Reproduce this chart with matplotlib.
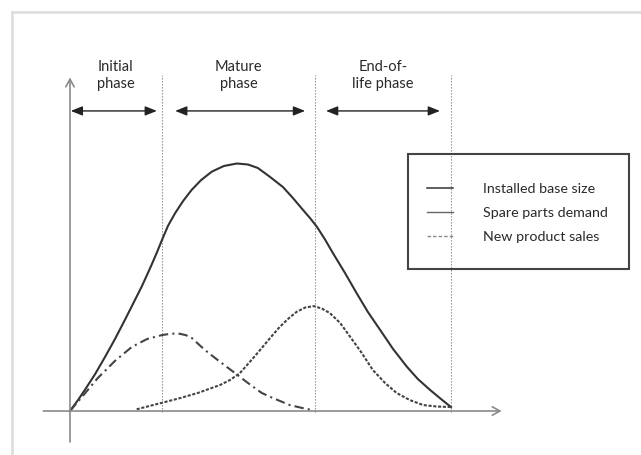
import matplotlib
matplotlib.use("Agg")
import matplotlib.pyplot as plt
from matplotlib.lines import Line2D
from matplotlib.patches import Rectangle

plt.rcParams['font.family'] = ['Lato', 'DejaVu Sans']

# ---- data (time 0..100, level 0..100) ----
installed_t = [0, 2.1, 3.9, 6.6, 9.2, 11.8, 14.4, 16.5, 18.8, 20.2, 21.4, 22.8, 24.1, 25.7,
               27.6, 29.7, 31.9, 34.4, 37.2, 40.4, 43.8, 46.7, 49.3, 52.5, 55.9, 58.5,
               61.2, 63.0, 64.8, 67.0, 69.0, 72.2, 75.2, 78.2, 81.4, 84.8, 88.4, 91.3,
               94.5, 97.4, 100.0]
installed_v = [0, 4.4, 8.5, 14.9, 21.8, 29.0, 36.7, 43.1, 50.1, 54.8, 58.9, 63.9, 68.8, 74.6,
               79.8, 84.7, 89.1, 93.1, 96.5, 98.8, 99.8, 99.4, 98.0, 94.4, 90.3, 85.9,
               81.0, 77.8, 74.3, 69.0, 63.7, 55.6, 47.6, 39.9, 32.7, 25.0, 17.9, 12.9,
               8.5, 4.8, 1.6]

spare_t = [17.5, 24.1, 28.9, 33.6, 39.4, 42.0, 44.6, 47.2, 49.9, 52.5, 55.1, 57.5, 59.5,
           61.7, 64.0, 66.1, 68.2, 70.9, 73.5, 76.4, 79.5, 82.7, 85.7, 89.2, 92.7, 96.3, 100.0]
spare_v = [0.7, 3.3, 5.2, 7.3, 10.5, 12.5, 15.3, 19.8, 24.6, 29.4, 34.0, 37.5, 40.0,
           41.7, 42.3, 41.3, 39.5, 35.5, 30.0, 23.8, 16.5, 11.3, 7.3, 4.4, 2.4, 1.8, 1.6]

sales_t = [0, 3.7, 7.3, 11.8, 16.2, 20.2, 24.1, 26.2, 28.3, 30.4, 32.0, 35.4, 39.4, 43.3,
           46.7, 50.3, 53.3, 57.7, 62.1, 63.8]
sales_v = [0, 6.7, 13.3, 20.2, 25.8, 29.0, 30.6, 31.1, 31.3, 30.6, 29.4, 24.6, 19.8, 15.3,
           11.3, 7.3, 5.2, 2.4, 0.8, 0.4]

phase_bounds = [0, 24.1, 64.3, 100.0]
phase_labels = ["Initial\nphase", "Mature\nphase", "End-of-\nlife phase"]
phase_arrow_start = [0.2, 27.6, 67.2]
phase_arrow_end = [22.8, 61.7, 97.1]

legend_labels = ["Installed base size", "Spare parts demand", "New product sales"]

# ---- figure ----
W, H = 641, 455
fig = plt.figure(figsize=(W / 100, H / 100), dpi=100)
ax = fig.add_axes([0, 0, 1, 1])
ax.set_xlim(-18.37, 149.87)
ax.set_ylim(-17.74, 165.73)
ax.axis('off')

# outer light border (top and left)
fig.add_artist(Line2D([12 / W, 1], [1 - 12 / H, 1 - 12 / H], transform=fig.transFigure,
                      color='#dcdcdc', lw=1.8))
fig.add_artist(Line2D([12 / W, 12 / W], [0, 1 - 12 / H], transform=fig.transFigure,
                      color='#dcdcdc', lw=1.8))

axis_col = '#8a8a8a'
# y axis
ax.annotate('', xy=(0, 134.5), xytext=(0, -12.5),
            arrowprops=dict(arrowstyle='->,head_length=0.55,head_width=0.3',
                            color=axis_col, lw=1.2, shrinkA=0, shrinkB=0))
# x axis
ax.annotate('', xy=(113.3, 0), xytext=(-7.0, 0),
            arrowprops=dict(arrowstyle='->,head_length=0.55,head_width=0.3',
                            color=axis_col, lw=1.2, shrinkA=0, shrinkB=0))

# phase boundaries
for b in phase_bounds[1:]:
    ax.plot([b, b], [-0.5, 135.5], color='#888888', lw=0.8, linestyle=(0, (1.2, 1.5)))

# phase arrows & labels
for i, lab in enumerate(phase_labels):
    ax.annotate('', xy=(phase_arrow_end[i], 121.0), xytext=(phase_arrow_start[i], 121.0),
                arrowprops=dict(arrowstyle='<|-|>,head_length=0.7,head_width=0.28',
                                color='#222222', lw=1.0, shrinkA=0, shrinkB=0))
    cx = (phase_bounds[i] + phase_bounds[i + 1]) / 2
    ax.text(cx, 135.3, lab, ha='center', va='center', multialignment='center',
            fontsize=10.5, color='#2a2a2a', linespacing=1.2)

# curves
ax.plot(installed_t, installed_v, color='#333333', lw=1.5, solid_joinstyle='round')
ax.plot(spare_t, spare_v, color='#444444', lw=1.5, linestyle=(0, (1.5, 0.8)))
ax.plot(sales_t, sales_v, color='#444444', lw=1.5, linestyle=(0, (4.5, 2, 1, 2)))

# legend
handles = [Line2D([], [], color='#333333', lw=1.1),
           Line2D([], [], color='#666666', lw=1.0),
           Line2D([], [], color='#888888', lw=1.0, linestyle=(0, (2.5, 1.5)))]
fig.add_artist(Rectangle((408 / W, 1 - 269 / H), 221 / W, 115 / H, transform=fig.transFigure,
                         fill=False, ec='#444444', lw=1.5))
fs = 10.3
leg = ax.legend(handles, legend_labels, loc='center left',
                bbox_to_anchor=(427 / W, 1 - 213 / H), bbox_transform=fig.transFigure,
                frameon=False, borderpad=0, borderaxespad=0, fontsize=fs,
                handlelength=26 / (fs * 100 / 72), handletextpad=30 / (fs * 100 / 72),
                labelspacing=0.82)
for t in leg.get_texts():
    t.set_color('#2a2a2a')

fig.savefig('out.png', dpi=100)
